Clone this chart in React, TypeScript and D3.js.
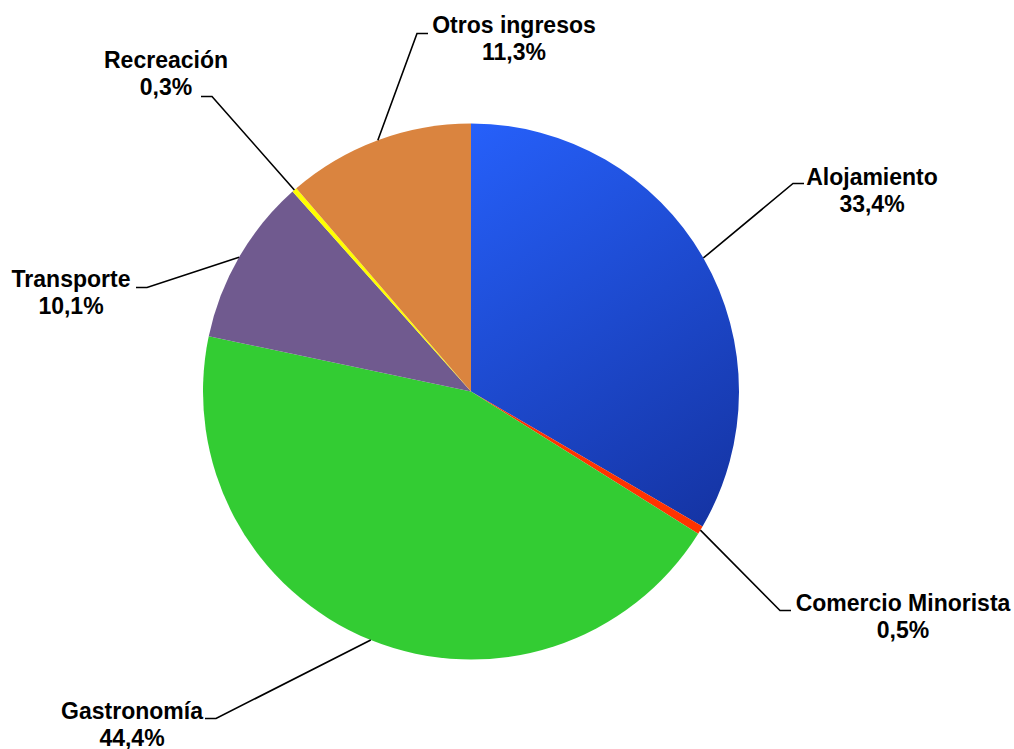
import React, { useRef, useEffect } from 'react';
import * as d3 from 'd3';

const categories = ['Alojamiento', 'Comercio Minorista', 'Gastronomía', 'Transporte', 'Recreación', 'Otros ingresos'];
const shares = [33.4, 0.5, 44.4, 10.1, 0.3, 11.3];
const percentLabels = ['33,4%', '0,5%', '44,4%', '10,1%', '0,3%', '11,3%'];
const colors = ['url(#blueGrad)', '#FF3300', '#33CC33', '#705A8F', '#FFFF00', '#DA843F'];

// label layout: elbow offset from centre, side of text, text centre x and first baseline
const labelLayout = [
  { ex: 322, ey: -208, side: 1, tx: 872, ty: 185 },
  { ex: 309, ey: 219, side: 1, tx: 903, ty: 611 },
  { ex: -255, ey: 327, side: -1, tx: 132, ty: 719 },
  { ex: -324, ey: -104, side: -1, tx: 71, ty: 287 },
  { ex: -259, ey: -295, side: -1, tx: 166, ty: 68 },
  { ex: -54, ey: -358, side: 1, tx: 514, ty: 33 },
];

const App: React.FC = () => {
  const ref = useRef<SVGSVGElement>(null);

  useEffect(() => {
    const svg = d3.select(ref.current);
    svg.selectAll('*').remove();
    const width = 1014;
    const height = 749;
    const cx = 471;
    const cy = 391.5;
    const r = 268;

    svg.attr('width', width).attr('height', height);

    const defs = svg.append('defs');
    const grad = defs.append('linearGradient')
      .attr('id', 'blueGrad')
      .attr('gradientUnits', 'userSpaceOnUse')
      .attr('x1', 0).attr('y1', -r)
      .attr('x2', r).attr('y2', 140);
    grad.append('stop').attr('offset', '0%').attr('stop-color', '#2660FA');
    grad.append('stop').attr('offset', '100%').attr('stop-color', '#1432A0');

    const pie = d3.pie<number>().sort(null).value(d => d);
    const arcs = pie(shares);
    const arc = d3.arc<d3.PieArcDatum<number>>().innerRadius(0).outerRadius(r);

    const g = svg.append('g').attr('transform', `translate(${cx},${cy})`);

    g.selectAll('path')
      .data(arcs)
      .join('path')
      .attr('d', arc)
      .attr('fill', (d, i) => colors[i]);

    const lineHeight = 26.5;

    arcs.forEach((d, i) => {
      const mid = (d.startAngle + d.endAngle) / 2;
      const sx = r * Math.sin(mid);
      const sy = -r * Math.cos(mid);
      const L = labelLayout[i];
      g.append('path')
        .attr('d', `M${sx},${sy}L${L.ex},${L.ey}L${L.ex + L.side * 11},${L.ey}`)
        .attr('fill', 'none')
        .attr('stroke', '#000')
        .attr('stroke-width', 1.6);

      const t = svg.append('text')
        .attr('x', L.tx)
        .attr('y', L.ty)
        .attr('text-anchor', 'middle')
        .attr('font-family', '"Liberation Sans", Arial, sans-serif')
        .attr('font-weight', 'bold')
        .attr('font-size', 23)
        .attr('fill', '#000');
      t.append('tspan').attr('x', L.tx).attr('dy', 0).text(categories[i]);
      t.append('tspan').attr('x', L.tx).attr('dy', lineHeight).text(percentLabels[i]);
    });
  }, []);

  return <svg ref={ref} style={{ position: 'absolute', left: 0, top: 0 }}></svg>;
};

export default App;
